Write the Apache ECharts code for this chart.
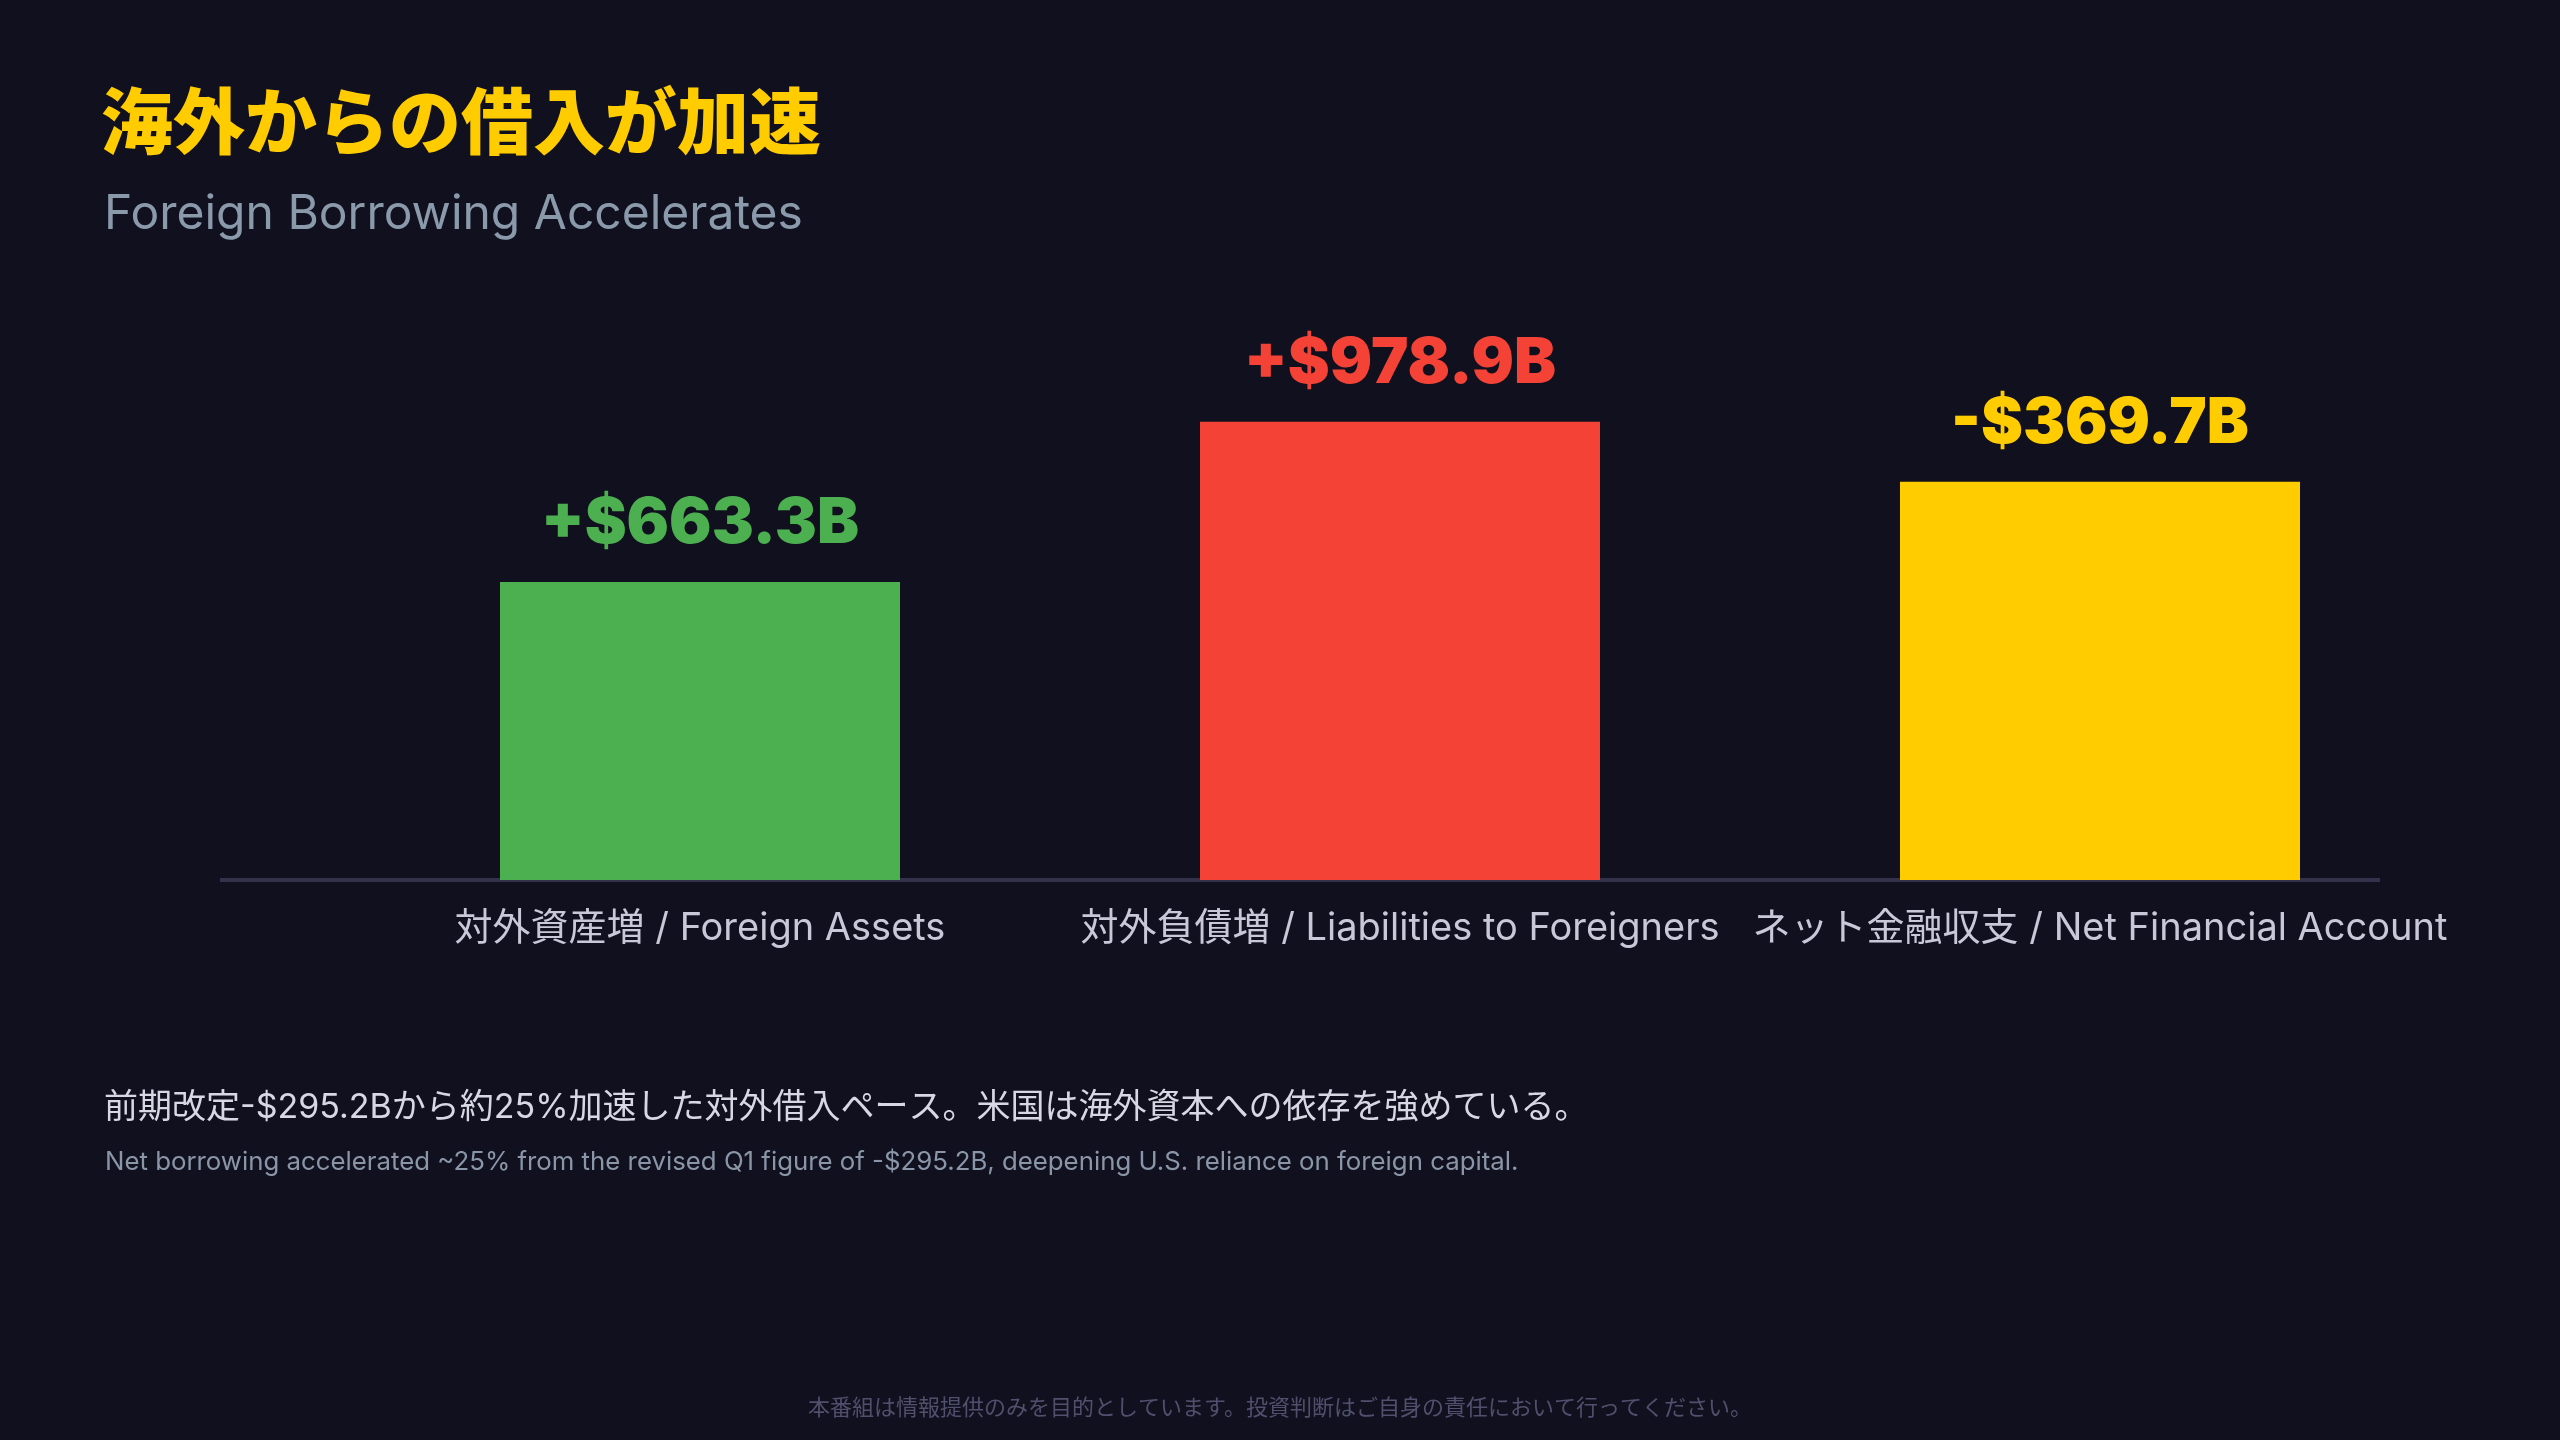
<!DOCTYPE html>
<html>
<head>
<meta charset="utf-8">
<script src="https://cdn.jsdelivr.net/npm/echarts@6/dist/echarts.min.js"></script>
<style>
  html, body { margin: 0; padding: 0; background: #10101e; }
  #main { width: 2560px; height: 1440px; }
</style>
</head>
<body>
<div id="main"></div>
<script>
// 区分名（日本語 / 英語）
const categories = [
    '対外資産増 / Foreign Assets',
    '対外負債増 / Liabilities to Foreigners',
    'ネット金融収支 / Net Financial Account'
];

// 棒の高さ
const barValues = [637, 979, 851];

// 棒の上に表示するラベル
const valueLabels = ['+$663.3B', '+$978.9B', '-$369.7B'];

// 各棒の色
const barColors = ['#4caf50', '#f44336', '#ffcc00'];

const yMax = 1000;

var myChart = echarts.init(document.getElementById('main'));

const jpFont = '"Noto Sans CJK JP", "Noto Sans", sans-serif';
const mixFont = 'Inter, "Noto Sans CJK JP", sans-serif';

var option = {
    backgroundColor: '#10101e',
    title: [
        {
            text: '海外からの借入が加速',
            left: 96,
            top: 80,
            textStyle: { color: '#ffcc00', fontSize: 72, fontWeight: 900, fontFamily: jpFont }
        },
        {
            text: 'Foreign Borrowing Accelerates',
            left: 99,
            top: 186,
            textStyle: { color: '#8a9aab', fontSize: 48, fontWeight: 'normal', fontFamily: mixFont }
        },
        {
            text: '前期改定-$295.2Bから約25%加速した対外借入ペース。米国は海外資本への依存を強めている。',
            left: 99,
            top: 1086,
            textStyle: { color: '#d8d8e4', fontSize: 34, fontWeight: 'normal', fontFamily: mixFont }
        },
        {
            text: 'Net borrowing accelerated ~25% from the revised Q1 figure of -$295.2B, deepening U.S. reliance on foreign capital.',
            left: 100,
            top: 1144,
            textStyle: { color: '#8a96a8', fontSize: 25.8, fontWeight: 'normal', fontFamily: mixFont }
        },
        {
            text: '本番組は情報提供のみを目的としています。投資判断はご自身の責任において行ってください。',
            left: 'center',
            top: 1391,
            textStyle: { color: '#50506e', fontSize: 22, fontWeight: 'normal', fontFamily: jpFont }
        }
    ],
    grid: {
        left: 350,
        right: 110,
        top: 412,
        bottom: 560
    },
    xAxis: {
        type: 'category',
        data: categories,
        axisLine: { show: false },
        axisTick: { show: false },
        axisLabel: {
            interval: 0,
            margin: 30,
            color: '#c8c8d8',
            fontSize: 38,
            fontFamily: mixFont
        }
    },
    yAxis: {
        type: 'value',
        min: 0,
        max: yMax,
        show: false,
        splitLine: { show: false }
    },
    // 軸の基準線（グリッドより少し左に広がる）
    graphic: [{
        type: 'rect',
        shape: { x: 220, y: 878, width: 2160, height: 4 },
        style: { fill: '#33334d' },
        z: 0
    }],
    series: [{
        type: 'bar',
        barWidth: 400,
        z: 2,
        data: barValues.map(function (v, i) {
            return {
                value: v,
                itemStyle: { color: barColors[i] },
                label: { color: barColors[i] }
            };
        }),
        label: {
            show: true,
            position: 'top',
            distance: 26,
            fontSize: 63,
            fontWeight: 900,
            fontFamily: 'Inter, "DejaVu Sans", sans-serif',
            formatter: function (p) {
                return valueLabels[p.dataIndex];
            }
        }
    }]
};

myChart.setOption(option);
</script>
</body>
</html>
